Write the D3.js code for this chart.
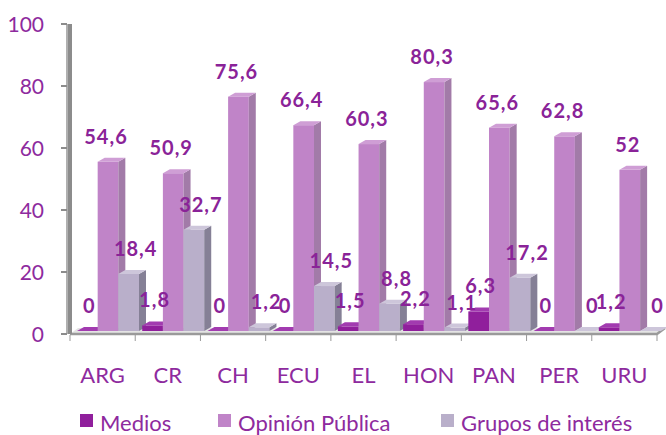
<!DOCTYPE html>
<html>
<head>
<meta charset="utf-8">
<script src="https://cdn.jsdelivr.net/npm/d3@7"></script>
<style>
  body { margin: 0; background: #fff; }
  svg { font-family: Lato, "Open Sans", sans-serif; }
</style>
</head>
<body>
<svg id="chart" width="666" height="435"></svg>
<script>
// chart data
const categories = ["ARG", "CR", "CH", "ECU", "EL", "HON", "PAN", "PER", "URU"];
const seriesNames = ["Medios", "Opinión Pública", "Grupos de interés"];
const medios = [0, 1.8, 0, 0, 1.5, 2.2, 6.3, 0, 1.2];
const opinion = [54.6, 50.9, 75.6, 66.4, 60.3, 80.3, 65.6, 62.8, 52];
const grupos = [18.4, 32.7, 1.2, 14.5, 8.8, 1.1, 17.2, 0, 0];
const yTicks = [0, 20, 40, 60, 80, 100];

const seriesValues = [medios, opinion, grupos];

// face colours per series: front, side, top
const faces = [
  { front: "#901f9c", side: "#6c1677", top: "#a23bb0" },
  { front: "#c084c8", side: "#a27ba8", top: "#cf9ed5" },
  { front: "#b9afca", side: "#858096", top: "#cdc6da" }
];
const textColor = "#8e2a9e";
const labelDx = [2, -2, 7]; // small shifts for value labels

const svg = d3.select("#chart");

const x = d3.scaleBand().domain(categories).range([70, 657]);
const xs = d3.scaleBand().domain(seriesNames).range([7, 69]);
const y = d3.scaleLinear().domain([0, 100]).range([334, 24]);

const lift = 3;   // bars sit a little behind the axis plane
const dx = 7, dy = 4; // 3D depth offset

// floor
svg.append("path")
  .attr("d", `M70,334 L657,334 L665,328 L78,328 Z`)
  .attr("fill", "#e4e4e4");
svg.append("path")
  .attr("d", `M70,334 L657,334 L665,328`)
  .attr("fill", "none")
  .attr("stroke", "#9a9a9a")
  .attr("stroke-width", 2.5);

// x ticks under the floor
svg.selectAll(".xtick")
  .data(categories.concat(["end"]))
  .enter()
  .append("line")
  .attr("x1", (d, i) => i < categories.length ? x(d) : x.range()[1])
  .attr("x2", (d, i) => i < categories.length ? x(d) : x.range()[1])
  .attr("y1", 335)
  .attr("y2", 341)
  .attr("stroke", "#999")
  .attr("stroke-width", 1);

// vertical axis (looks like a thick grey wall edge)
svg.append("rect")
  .attr("x", 66)
  .attr("y", y(100))
  .attr("width", 6)
  .attr("height", y(0) - y(100))
  .attr("fill", "#8c8c8c");
svg.append("rect")
  .attr("x", 66)
  .attr("y", y(100))
  .attr("width", 2)
  .attr("height", y(0) - y(100))
  .attr("fill", "#b0b0b0");

svg.selectAll(".ytick")
  .data(yTicks)
  .enter()
  .append("line")
  .attr("x1", 61)
  .attr("x2", 67)
  .attr("y1", d => y(d))
  .attr("y2", d => y(d))
  .attr("stroke", "#8c8c8c")
  .attr("stroke-width", 2);

svg.selectAll(".ylabel")
  .data(yTicks)
  .enter()
  .append("text")
  .attr("x", 44)
  .attr("y", d => y(d))
  .attr("dy", "0.36em")
  .attr("text-anchor", "end")
  .attr("fill", textColor)
  .style("font-size", "21px")
  .text(d => d);

// bars, drawn left to right so front faces cover earlier side faces
const bars = [];
categories.forEach((c, ci) => {
  seriesNames.forEach((s, si) => {
    bars.push({ cat: c, series: s, si: si, value: seriesValues[si][ci] });
  });
});

const barG = svg.append("g");
bars.forEach(b => {
  const x0 = x(b.cat) + xs(b.series);
  const w = xs.bandwidth();
  const yb = y(0) - lift;
  const yt = y(b.value) - lift;
  const col = faces[b.si];
  const g = barG.append("g");
  if (yb - yt > 0.5) {
    g.append("rect")
      .attr("x", x0).attr("y", yt)
      .attr("width", w).attr("height", yb - yt)
      .attr("fill", col.front);
  }
  g.append("path")
    .attr("d", `M${x0 + w},${yt} L${x0 + w + dx},${yt - dy} L${x0 + w + dx},${yb - dy} L${x0 + w},${yb} Z`)
    .attr("fill", col.side);
  g.append("path")
    .attr("d", `M${x0},${yt} L${x0 + w},${yt} L${x0 + w + dx},${yt - dy} L${x0 + dx},${yt - dy} Z`)
    .attr("fill", col.top);
});

// value labels
svg.selectAll(".vlabel")
  .data(bars)
  .enter()
  .append("text")
  .attr("x", d => x(d.cat) + xs(d.series) + xs.bandwidth() / 2 + labelDx[d.si])
  .attr("y", d => y(d.value) - lift - 18)
  .attr("text-anchor", "middle")
  .attr("fill", "#8a2398")
  .style("font-size", "20px")
  .style("font-weight", "bold")
  .style("letter-spacing", "1px")
  .text(d => String(d.value).replace(".", ","));

// category labels
svg.selectAll(".xlabel")
  .data(categories)
  .enter()
  .append("text")
  .attr("x", d => x(d) + x.bandwidth() / 2)
  .attr("y", 383)
  .attr("text-anchor", "middle")
  .attr("fill", textColor)
  .style("font-size", "22px")
  .text(d => d);

// legend
const legendX = [80, 218, 441];
const legend = svg.selectAll(".legend")
  .data(seriesNames)
  .enter()
  .append("g")
  .attr("transform", (d, i) => `translate(${legendX[i]},414)`);
legend.append("rect")
  .attr("width", 13)
  .attr("height", 13)
  .attr("fill", (d, i) => faces[i].front);
legend.append("text")
  .attr("x", 20)
  .attr("y", 17)
  .attr("fill", textColor)
  .style("font-size", "22px")
  .text(d => d);
</script>
</body>
</html>
